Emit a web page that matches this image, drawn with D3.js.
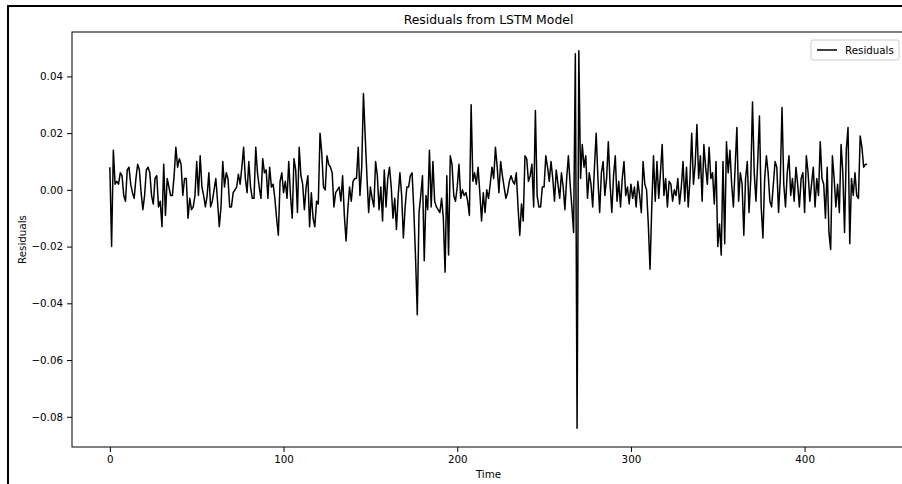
<!DOCTYPE html>
<html>
<head>
<meta charset="utf-8">
<script src="https://cdn.jsdelivr.net/npm/d3@7"></script>
<style>
  html, body { margin: 0; padding: 0; background: #fff; }
  svg { display: block; font-family: "DejaVu Sans", sans-serif; }
</style>
</head>
<body>
<div id="chart"></div>
<script>
// residual per time step
const residuals = [
  0.008, -0.020, 0.014, 0.002, 0.003, 0.002, 0.006, 0.005, -0.002, -0.004,
  0.007, 0.008, 0.002, -0.001, -0.003, 0.004, 0.009, 0.007, -0.001, -0.007,
  -0.002, 0.007, 0.008, 0.006, -0.002, -0.005, 0.004, 0.005, -0.006, -0.004,
  -0.013, 0.009, -0.009, 0.004, 0.001, -0.002, -0.002, 0.005, 0.015, 0.008,
  0.011, 0.009, -0.002, 0.004, 0.004, -0.010, -0.003, -0.007, -0.006, -0.002,
  0.010, -0.002, 0.012, 0.001, -0.002, -0.006, -0.002, 0.006, -0.006, -0.004,
  0.000, 0.004, -0.004, -0.013, -0.006, 0.010, 0.001, 0.006, 0.004, -0.006,
  -0.006, -0.001, 0.000, 0.001, 0.0055, 0.002, 0.008, 0.015, 0.004, -0.001,
  0.010, 0.001, -0.003, -0.003, 0.015, 0.006, 0.001, -0.003, 0.011, 0.006,
  0.007, -0.003, 0.008, 0.001, 0.002, -0.003, -0.010, -0.016, 0.003, 0.006,
  -0.001, 0.003, -0.003, 0.010, -0.002, -0.010, 0.011, 0.007, -0.008, 0.015,
  0.005, 0.002, -0.007, 0.001, 0.005, -0.013, -0.001, -0.010, -0.013, -0.004,
  -0.005, 0.020, 0.013, 0.001, 0.000, 0.012, 0.009, 0.008, 0.006, -0.006,
  -0.001, 0.000, 0.001, -0.004, 0.005, -0.009, -0.018, -0.007, 0.001, -0.004,
  0.003, 0.004, 0.004, 0.015, -0.002, 0.008, 0.034, 0.019, 0.005, -0.008,
  0.001, -0.003, -0.006, 0.010, 0.005, -0.007, 0.001, -0.011, 0.007, -0.006,
  0.004, 0.008, 0.001, -0.010, -0.003, -0.014, -0.002, 0.006, -0.002, -0.017,
  -0.006, 0.001, 0.001, 0.005, 0.006, -0.007, -0.024, -0.044, -0.008, -0.002,
  0.005, -0.025, -0.002, -0.007, 0.014, -0.006, 0.010, -0.004, -0.006, -0.007,
  -0.008, -0.003, -0.010, -0.029, 0.005, -0.023, 0.012, 0.009, -0.002, -0.004,
  0.001, 0.009, -0.003, 0.000, -0.002, -0.001, -0.004, -0.009, 0.030, 0.003,
  0.006, 0.002, 0.008, -0.001, -0.011, -0.001, -0.008, 0.000, -0.003, 0.002,
  0.008, 0.004, 0.015, 0.008, -0.001, 0.010, 0.005, 0.001, -0.003, -0.001,
  0.003, 0.005, 0.003, 0.002, 0.006, -0.006, -0.016, -0.005, -0.011, 0.012,
  0.011, 0.003, 0.005, 0.009, -0.006, 0.028, -0.002, -0.006, -0.006, 0.001,
  0.001, 0.012, 0.008, 0.003, 0.010, 0.004, -0.004, 0.007, 0.002, -0.003,
  0.006, 0.001, -0.007, 0.004, 0.012, 0.002, -0.006, -0.015, 0.048, -0.084,
  0.049, 0.004, 0.016, 0.008, 0.012, -0.003, 0.006, 0.002, -0.006, 0.008,
  0.020, 0.004, -0.008, 0.006, 0.010, -0.002, 0.004, 0.017, 0.002, -0.008,
  0.005, 0.012, -0.004, 0.003, -0.006, 0.004, 0.010, -0.002, 0.001, -0.005,
  0.002, -0.003, 0.001, -0.006, 0.003, -0.002, -0.008, 0.010, 0.002, 0.000,
  -0.012, -0.028, -0.006, 0.012, -0.004, 0.010, -0.003, 0.006, 0.016, -0.002,
  0.004, -0.006, 0.003, 0.002, -0.004, 0.000, -0.002, 0.004, -0.005, 0.001,
  0.010, -0.004, 0.008, -0.006, 0.004, 0.020, 0.002, 0.009, 0.023, 0.004,
  0.012, -0.004, 0.016, 0.008, 0.002, 0.015, 0.004, 0.006, -0.005, 0.010,
  -0.020, -0.012, -0.023, 0.010, -0.019, 0.017, 0.006, 0.014, 0.002, -0.006,
  0.008, 0.022, -0.004, 0.006, 0.002, -0.016, 0.004, 0.010, -0.008, 0.004,
  0.031, 0.006, -0.004, 0.010, 0.026, -0.006, -0.017, 0.004, 0.012, 0.006,
  -0.004, -0.006, 0.002, 0.010, 0.008, -0.008, 0.004, 0.029, 0.002, -0.006,
  0.006, 0.012, -0.002, 0.004, -0.004, 0.008, 0.002, -0.006, 0.004, 0.006,
  -0.008, 0.012, 0.006, -0.004, 0.002, 0.008, -0.006, 0.004, -0.002, 0.017,
  0.004, 0.002, -0.010, 0.008, -0.015, -0.021, 0.012, 0.004, -0.006, 0.002,
  -0.008, 0.016, 0.006, -0.015, 0.014, 0.022, -0.019, 0.004, -0.002, 0.006,
  -0.002, -0.003, 0.019, 0.015, 0.008, 0.009, 0.009
];
const xTicks = [0, 100, 200, 300, 400];
const yTicks = [0.04, 0.02, 0.00, -0.02, -0.04, -0.06, -0.08];

const W = 902, H = 484;
const box = {left: 72, top: 32, right: 905, bottom: 447};

const svg = d3.select("#chart").append("svg")
  .attr("width", W)
  .attr("height", H);

// outer frame of the screenshot
svg.append("rect")
  .attr("x", 8).attr("y", 6)
  .attr("width", W + 20).attr("height", H + 20)
  .attr("fill", "none")
  .attr("stroke", "#000")
  .attr("stroke-width", 2);

const n = residuals.length;
const pad = (n - 1) * 0.05;
const x = d3.scaleLinear()
  .domain([-pad, n - 1 + pad])
  .range([box.left, box.right]);

const yMin = d3.min(residuals), yMax = d3.max(residuals);
const yPad = (yMax - yMin) * 0.05;
const y = d3.scaleLinear()
  .domain([yMin - yPad, yMax + yPad])
  .range([box.bottom, box.top]);

const line = d3.line()
  .x(function(d, i) { return x(i); })
  .y(function(d) { return y(d); });

svg.append("path")
  .datum(residuals)
  .attr("d", line)
  .attr("fill", "none")
  .attr("stroke", "#000")
  .attr("stroke-width", 1.5)
  .attr("stroke-linejoin", "round");

// axes
const xAxis = svg.append("g")
  .attr("transform", "translate(0," + box.bottom + ")")
  .call(d3.axisBottom(x).tickValues(xTicks).tickSize(5).tickPadding(4).tickSizeOuter(0));

const yAxis = svg.append("g")
  .attr("transform", "translate(" + box.left + ",0)")
  .call(d3.axisLeft(y).tickValues(yTicks).tickSize(5).tickPadding(4).tickSizeOuter(0)
    .tickFormat(d3.format(".2f")));

[xAxis, yAxis].forEach(function(g) {
  g.select(".domain").remove();
  g.selectAll("line").attr("stroke", "#000").attr("stroke-width", 1);
  g.selectAll("text")
    .attr("fill", "#000")
    .style("font-family", "DejaVu Sans")
    .style("font-size", "10.3px");
});

// spines
svg.append("rect")
  .attr("x", box.left).attr("y", box.top)
  .attr("width", box.right - box.left).attr("height", box.bottom - box.top)
  .attr("fill", "none")
  .attr("stroke", "#000")
  .attr("stroke-width", 1);

// labels
svg.append("text")
  .attr("x", (box.left + box.right) / 2)
  .attr("y", 24)
  .attr("text-anchor", "middle")
  .style("font-size", "12.4px")
  .text("Residuals from LSTM Model");

svg.append("text")
  .attr("x", (box.left + box.right) / 2)
  .attr("y", 478)
  .attr("text-anchor", "middle")
  .style("font-size", "10.3px")
  .text("Time");

svg.append("text")
  .attr("transform", "translate(26," + (box.top + box.bottom) / 2 + ") rotate(-90)")
  .attr("text-anchor", "middle")
  .style("font-size", "10.3px")
  .text("Residuals");

// legend
const legend = svg.append("g").attr("transform", "translate(811,40)");
legend.append("rect")
  .attr("width", 88).attr("height", 20)
  .attr("rx", 2)
  .attr("fill", "#fff")
  .attr("fill-opacity", 0.8)
  .attr("stroke", "#ccc")
  .attr("stroke-width", 1);
legend.append("line")
  .attr("x1", 6).attr("x2", 26)
  .attr("y1", 10).attr("y2", 10)
  .attr("stroke", "#000")
  .attr("stroke-width", 1.5);
legend.append("text")
  .attr("x", 34).attr("y", 14)
  .style("font-size", "10.3px")
  .text("Residuals");
</script>
</body>
</html>
